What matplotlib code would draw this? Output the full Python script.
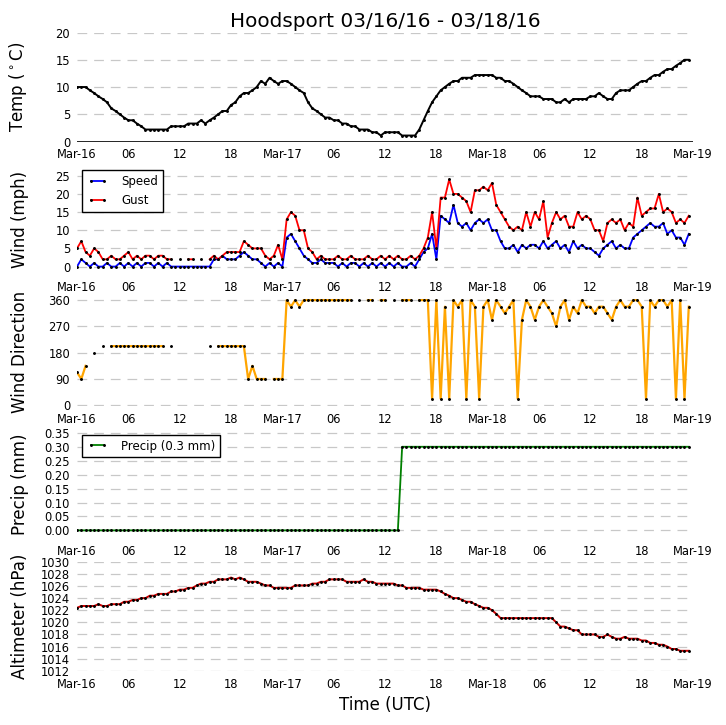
import matplotlib
matplotlib.use('Agg')
import matplotlib.pyplot as plt
import matplotlib.dates as mdates
import numpy as np
import pandas as pd

nan = np.nan

# 30-minute samples, 2016-03-16 00:00 UTC .. 2016-03-18 23:30 UTC
START = '2016-03-16 00:00'
N_SAMPLES = 144

temp_c = [
    10.0, 10.0, 10.0, 9.4, 8.9, 8.3, 7.8, 7.2, 6.1, 5.6, 5.0, 4.4,
    3.9, 3.9, 3.3, 2.8, 2.2, 2.2, 2.2, 2.2, 2.2, 2.2, 2.8, 2.8,
    2.8, 2.8, 3.3, 3.3, 3.3, 3.9, 3.3, 3.9, 4.4, 5.0, 5.6, 5.6,
    6.7, 7.2, 8.3, 8.9, 8.9, 9.4, 10.0, 11.1, 10.6, 11.7, 11.1, 10.6,
    11.1, 11.1, 10.6, 10.0, 9.4, 8.9, 7.2, 6.1, 5.6, 5.0, 4.4, 4.4,
    3.9, 3.9, 3.3, 3.3, 2.8, 2.8, 2.2, 2.2, 2.2, 1.7, 1.7, 1.1,
    1.7, 1.7, 1.7, 1.7, 1.1, 1.1, 1.1, 1.1, 2.2, 3.9, 5.6, 7.2,
    8.3, 9.4, 10.0, 10.6, 11.1, 11.1, 11.7, 11.7, 11.7, 12.2, 12.2, 12.2,
    12.2, 12.2, 11.7, 11.7, 11.1, 11.1, 10.6, 10.0, 9.4, 8.9, 8.3, 8.3,
    8.3, 7.8, 7.8, 7.8, 7.2, 7.2, 7.8, 7.2, 7.8, 7.8, 7.8, 7.8,
    8.3, 8.3, 8.9, 8.3, 7.8, 7.8, 8.9, 9.4, 9.4, 9.4, 10.0, 10.6,
    11.1, 11.1, 11.7, 12.2, 12.2, 12.8, 13.3, 13.3, 13.9, 14.4, 15.0, 15.0,
]

wind_speed = [
    0, 2, 1, 0, 1, 0, 0, 1, 0, 0, 1, 0,
    1, 0, 1, 0, 1, 1, 0, 1, 0, 1, 0, 0,
    0, 0, 0, 0, 0, 0, 0, 0, 2, 2, 3, 2,
    2, 2, 3, 4, 3, 2, 2, 1, 0, 1, 0, 1,
    0, 8, 9, 7, 5, 3, 2, 1, 1, 2, 1, 1,
    1, 0, 1, 0, 1, 1, 0, 1, 0, 1, 0, 1,
    0, 1, 0, 1, 0, 0, 1, 0, 2, 4, 5, 9,
    2, 14, 13, 12, 17, 12, 11, 12, 10, 12, 13, 12,
    13, 10, 10, 7, 5, 5, 6, 4, 6, 5, 6, 6,
    5, 7, 5, 6, 7, 5, 6, 4, 7, 5, 6, 5,
    5, 4, 3, 5, 6, 7, 5, 6, 5, 5, 8, 9,
    10, 11, 12, 11, 11, 12, 9, 10, 8, 8, 6, 9,
]

wind_gust = [
    5, 7, 4, 3, 5, 4, 2, 2, 3, 2, 2, 3,
    4, 2, 3, 2, 3, 3, 2, 3, 3, 2, 2, nan,
    2, nan, 2, 2, nan, 2, nan, 2, 3, 2, 3, 4,
    4, 4, 4, 7, 6, 5, 5, 5, 3, 2, 3, 6,
    2, 13, 15, 14, 10, 10, 5, 4, 2, 3, 2, 2,
    2, 3, 2, 2, 3, 2, 2, 2, 3, 2, 2, 3,
    2, 3, 2, 3, 2, 2, 3, 2, 3, 5, 8, 15,
    5, 19, 19, 24, 20, 20, 19, 18, 15, 21, 21, 22,
    21, 23, 17, 15, 13, 11, 10, 11, 10, 15, 11, 15,
    13, 18, 8, 12, 15, 13, 14, 11, 11, 15, 13, 14,
    13, 10, 10, 7, 12, 13, 12, 13, 10, 12, 11, 19,
    14, 15, 16, 16, 20, 15, 16, 15, 12, 13, 12, 14,
]

wind_dir = [
    112.5, 90, 135, nan, 180, nan, 202.5, nan, 202.5, 202.5, 202.5, 202.5,
    202.5, 202.5, 202.5, 202.5, 202.5, 202.5, 202.5, 202.5, 202.5, nan, 202.5, nan,
    nan, nan, nan, nan, nan, nan, nan, 202.5, nan, 202.5, 202.5, 202.5,
    202.5, 202.5, 202.5, 202.5, 90, 135, 90, 90, 90, nan, 90, 90,
    90, 360, 337.5, 360, 337.5, 360, 360, 360, 360, 360, 360, 360,
    360, 360, 360, 360, 360, nan, 360, nan, 360, 360, nan, 360,
    360, nan, 360, nan, 360, 360, 360, nan, 360, 360, 360, 22.5,
    360, 22.5, 337.5, 22.5, 360, 337.5, 360, 22.5, 360, 337.5, 22.5, 337.5,
    360, 292.5, 360, 337.5, 315, 337.5, 360, 22.5, 292.5, 360, 337.5, 292.5,
    337.5, 360, 337.5, 315, 270, 337.5, 360, 292.5, 337.5, 315, 360, 337.5,
    337.5, 315, 337.5, 337.5, 315, 292.5, 337.5, 360, 337.5, 337.5, 360, 360,
    337.5, 22.5, 360, 337.5, 360, 360, 337.5, 360, 22.5, 360, 22.5, 337.5,
]

precip_mm = [
    0.0, 0.0, 0.0, 0.0, 0.0, 0.0, 0.0, 0.0, 0.0, 0.0, 0.0, 0.0,
    0.0, 0.0, 0.0, 0.0, 0.0, 0.0, 0.0, 0.0, 0.0, 0.0, 0.0, 0.0,
    0.0, 0.0, 0.0, 0.0, 0.0, 0.0, 0.0, 0.0, 0.0, 0.0, 0.0, 0.0,
    0.0, 0.0, 0.0, 0.0, 0.0, 0.0, 0.0, 0.0, 0.0, 0.0, 0.0, 0.0,
    0.0, 0.0, 0.0, 0.0, 0.0, 0.0, 0.0, 0.0, 0.0, 0.0, 0.0, 0.0,
    0.0, 0.0, 0.0, 0.0, 0.0, 0.0, 0.0, 0.0, 0.0, 0.0, 0.0, 0.0,
    0.0, 0.0, 0.0, 0.0, 0.3, 0.3, 0.3, 0.3, 0.3, 0.3, 0.3, 0.3,
    0.3, 0.3, 0.3, 0.3, 0.3, 0.3, 0.3, 0.3, 0.3, 0.3, 0.3, 0.3,
    0.3, 0.3, 0.3, 0.3, 0.3, 0.3, 0.3, 0.3, 0.3, 0.3, 0.3, 0.3,
    0.3, 0.3, 0.3, 0.3, 0.3, 0.3, 0.3, 0.3, 0.3, 0.3, 0.3, 0.3,
    0.3, 0.3, 0.3, 0.3, 0.3, 0.3, 0.3, 0.3, 0.3, 0.3, 0.3, 0.3,
    0.3, 0.3, 0.3, 0.3, 0.3, 0.3, 0.3, 0.3, 0.3, 0.3, 0.3, 0.3,
]

altimeter_hpa = [
    1022.4, 1022.7, 1022.7, 1022.7, 1022.7, 1023.0, 1022.7, 1022.7, 1023.0, 1023.0, 1023.0, 1023.4,
    1023.4, 1023.7, 1023.7, 1024.0, 1024.0, 1024.4, 1024.4, 1024.7, 1024.7, 1024.7, 1025.1, 1025.1,
    1025.4, 1025.4, 1025.7, 1025.7, 1026.1, 1026.4, 1026.4, 1026.7, 1026.7, 1027.1, 1027.1, 1027.1,
    1027.4, 1027.1, 1027.4, 1027.1, 1026.7, 1026.7, 1026.7, 1026.4, 1026.1, 1026.1, 1025.7, 1025.7,
    1025.7, 1025.7, 1025.7, 1026.1, 1026.1, 1026.1, 1026.1, 1026.4, 1026.4, 1026.7, 1026.7, 1027.1,
    1027.1, 1027.1, 1027.1, 1026.7, 1026.7, 1026.7, 1026.7, 1027.1, 1026.7, 1026.7, 1026.4, 1026.4,
    1026.4, 1026.4, 1026.4, 1026.1, 1026.1, 1025.7, 1025.7, 1025.7, 1025.7, 1025.4, 1025.4, 1025.4,
    1025.4, 1025.1, 1024.7, 1024.4, 1024.0, 1024.0, 1023.7, 1023.4, 1023.4, 1023.0, 1022.7, 1022.4,
    1022.4, 1022.0, 1021.4, 1020.7, 1020.7, 1020.7, 1020.7, 1020.7, 1020.7, 1020.7, 1020.7, 1020.7,
    1020.7, 1020.7, 1020.7, 1020.7, 1020.0, 1019.3, 1019.3, 1019.0, 1018.7, 1018.7, 1018.0, 1018.0,
    1018.0, 1018.0, 1017.6, 1017.6, 1018.0, 1017.6, 1017.3, 1017.3, 1017.6, 1017.3, 1017.3, 1017.3,
    1017.0, 1017.0, 1016.6, 1016.6, 1016.3, 1016.3, 1016.0, 1015.6, 1015.6, 1015.3, 1015.3, 1015.3,
]

TITLE = 'Hoodsport 03/16/16 - 03/18/16'

plt.rcParams.update({
    'font.family': 'DejaVu Sans',
    'mathtext.default': 'regular',
    'lines.scale_dashes': False,
})

times = pd.date_range(START, periods=N_SAMPLES, freq='30min')
x0 = pd.Timestamp('2016-03-16 00:00')
x1 = pd.Timestamp('2016-03-19 00:00')

fig = plt.figure(figsize=(7.26, 7.25), dpi=100)

LEFT, WIDTH = 0.1061, 0.8485
HEIGHT, PITCH, BOTTOM0 = 0.1503, 0.1825, 0.8048
axes = [fig.add_axes([LEFT, BOTTOM0 - i * PITCH, WIDTH, HEIGHT]) for i in range(5)]


def tick_fmt(x, pos=None):
    d = mdates.num2date(x)
    if d.hour == 0:
        return d.strftime('%b-%d')
    return d.strftime('%H')


def style_axis(ax, ylabel, ylim, yticks):
    for sp in ax.spines.values():
        sp.set_visible(False)
    ax.set_xlim(x0, x1)
    ax.set_ylim(*ylim)
    ax.set_yticks(yticks)
    ax.xaxis.set_major_locator(mdates.HourLocator(byhour=[0, 6, 12, 18]))
    ax.xaxis.set_major_formatter(plt.FuncFormatter(tick_fmt))
    ax.tick_params(axis='both', length=0, pad=5, labelsize=8.3)
    ax.yaxis.grid(True, color='#c8c8c8', linestyle=(0, (7, 5)), linewidth=0.9)
    ax.set_axisbelow(True)
    ax.set_ylabel(ylabel, fontsize=12)
    ax.yaxis.set_label_coords(-0.078, 0.5)


# small black sample markers on every series
mk = dict(marker='.', markersize=2.2, markerfacecolor='k', markeredgecolor='k')

# temperature
ax = axes[0]
ax.axhline(0, color='k', lw=1.2)
ax.plot(times, temp_c, color='k', lw=1.4, **mk)
style_axis(ax, 'Temp ($^\\circ$C)', (0, 20), [0, 5, 10, 15, 20])
ax.set_title(TITLE, fontsize=14.4, pad=4)

# wind
ax = axes[1]
ax.plot(times, wind_speed, color='b', lw=1.3, label='Speed', **mk)
ax.plot(times, wind_gust, color='r', lw=1.3, label='Gust', **mk)
style_axis(ax, 'Wind (mph)', (-2, 28), [0, 5, 10, 15, 20, 25])

# wind direction
ax = axes[2]
ax.plot(times, wind_dir, color='orange', lw=1.6, **mk)
style_axis(ax, 'Wind Direction', (-3, 370), [0, 90, 180, 270, 360])

# precipitation
ax = axes[3]
ax.plot(times, precip_mm, color='g', lw=1.3, label='Precip (0.3 mm)', **mk)
style_axis(ax, 'Precip (mm)', (-0.029, 0.362),
           [0.0, 0.05, 0.10, 0.15, 0.20, 0.25, 0.30, 0.35])
ax.yaxis.set_major_formatter(plt.FormatStrFormatter('%.2f'))

# altimeter
ax = axes[4]
ax.plot(times, altimeter_hpa, color='#cc0000', lw=1.4, **mk)
style_axis(ax, 'Altimeter (hPa)', (1012, 1030), list(range(1012, 1031, 2)))
ax.set_xlabel('Time (UTC)', fontsize=12, labelpad=4)

for ax in (axes[1], axes[3]):
    leg = ax.legend(loc='upper left', fontsize=8.5, numpoints=2, fancybox=False,
                    framealpha=1, edgecolor='k', handlelength=1.7,
                    handletextpad=1.2, labelspacing=0.5, borderpad=0.4,
                    borderaxespad=0.45)
    leg.get_frame().set_linewidth(1.0)

fig.savefig('out.png', dpi=100)
